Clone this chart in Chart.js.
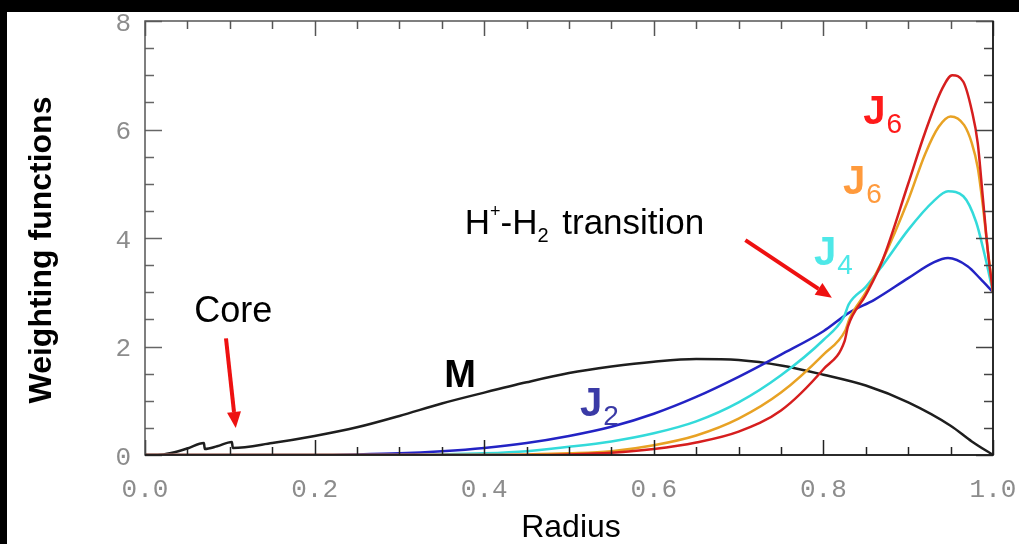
<!DOCTYPE html>
<html><head><meta charset="utf-8">
<script src="https://cdn.jsdelivr.net/npm/chart.js@4.4.1/dist/chart.umd.min.js"></script>
<style>html,body{margin:0;padding:0;background:#000;overflow:hidden}canvas{display:block}</style>
</head><body>
<canvas id="c" width="1019" height="544"></canvas>
<script>
// ---- data ----
const radiusTicks = [0, 0.2, 0.4, 0.6, 0.8, 1.0];
const weightTicks = [0, 2, 4, 6, 8];

const mRadius = [0, 0.015, 0.032, 0.05, 0.0695, 0.0705, 0.085, 0.1025, 0.1035, 0.15, 0.2, 0.25, 0.3, 0.35, 0.4, 0.45, 0.5, 0.55, 0.6, 0.65, 0.7, 0.75, 0.8, 0.85, 0.9, 0.95, 0.975, 1.0];
const mValues = [0, 0, 0.04, 0.12, 0.22, 0.11, 0.16, 0.24, 0.13, 0.22, 0.35, 0.51, 0.72, 0.95, 1.15, 1.34, 1.51, 1.63, 1.72, 1.77, 1.75, 1.65, 1.48, 1.28, 0.97, 0.54, 0.25, 0];

const j2Radius = [0, 0.2, 0.25, 0.3, 0.35, 0.4, 0.45, 0.5, 0.55, 0.6, 0.65, 0.7, 0.75, 0.8, 0.83, 0.86, 0.9, 0.93, 0.947, 0.97, 0.985, 1.0];
const j2Values = [0, 0, 0.01, 0.03, 0.07, 0.13, 0.22, 0.35, 0.52, 0.76, 1.07, 1.44, 1.85, 2.28, 2.62, 2.86, 3.26, 3.55, 3.63, 3.48, 3.25, 3.0];

const j4Radius = [0, 0.3, 0.35, 0.4, 0.45, 0.5, 0.55, 0.6, 0.65, 0.7, 0.75, 0.8, 0.824, 0.83, 0.85, 0.87, 0.9, 0.93, 0.947, 0.965, 0.98, 0.99, 1.0];
const j4Values = [0, 0, 0.01, 0.03, 0.07, 0.15, 0.25, 0.40, 0.62, 0.97, 1.47, 2.12, 2.54, 2.78, 3.1, 3.5, 4.15, 4.68, 4.86, 4.77, 4.30, 3.70, 3.0];

const j6aRadius = [0, 0.4, 0.45, 0.5, 0.55, 0.6, 0.65, 0.7, 0.75, 0.8, 0.826, 0.831, 0.85, 0.87, 0.9, 0.92, 0.936, 0.95, 0.966, 0.975, 0.982, 0.988, 0.994, 1.0];
const j6aValues = [0, 0, 0.01, 0.03, 0.07, 0.18, 0.36, 0.67, 1.15, 1.85, 2.30, 2.52, 3.0, 3.6, 4.70, 5.55, 6.05, 6.24, 6.08, 5.75, 5.30, 4.60, 3.75, 3.0];

const j6bRadius = [0, 0.45, 0.5, 0.55, 0.6, 0.65, 0.7, 0.75, 0.8, 0.825, 0.829, 0.85, 0.87, 0.9, 0.92, 0.94, 0.952, 0.965, 0.975, 0.982, 0.988, 0.994, 1.0];
const j6bValues = [0, 0, 0.01, 0.04, 0.11, 0.23, 0.43, 0.82, 1.58, 2.10, 2.37, 2.95, 3.6, 5.0, 5.95, 6.75, 7.0, 6.88, 6.35, 5.75, 4.75, 3.75, 3.0];

function pts(xs, ys) { return xs.map((x, i) => ({ x: x, y: ys[i] })); }

const tickFont = { family: 'Liberation Mono', size: 26 };
const gray = '#8c8c8c';

function richText(ctx, x, y, parts) {
  let cx = x;
  for (const p of parts) {
    ctx.font = (p.weight || 'normal') + ' ' + p.size + 'px "Liberation Sans", Arial, sans-serif';
    ctx.fillText(p.text, cx, y + (p.dy || 0));
    cx += ctx.measureText(p.text).width + (p.gap || 0);
  }
}
function arrow(ctx, x1, y1, x2, y2, color) {
  const ang = Math.atan2(y2 - y1, x2 - x1);
  const head = 16, hw = 7;
  const bx = x2 - head * Math.cos(ang), by = y2 - head * Math.sin(ang);
  ctx.save();
  ctx.strokeStyle = color; ctx.fillStyle = color; ctx.lineWidth = 4;
  ctx.beginPath(); ctx.moveTo(x1, y1); ctx.lineTo(bx, by); ctx.stroke();
  ctx.beginPath();
  ctx.moveTo(x2, y2);
  ctx.lineTo(bx + hw * Math.sin(ang), by - hw * Math.cos(ang));
  ctx.lineTo(bx - hw * Math.sin(ang), by + hw * Math.cos(ang));
  ctx.closePath(); ctx.fill();
  ctx.restore();
}

const framePlugin = {
  id: 'framePlugin',
  beforeDraw(chart) {
    const ctx = chart.ctx;
    ctx.save();
    ctx.fillStyle = '#000'; ctx.fillRect(0, 0, chart.width, chart.height);
    ctx.fillStyle = '#fff'; ctx.fillRect(7, 12, chart.width - 7, chart.height - 12);
    ctx.restore();
  },
  afterDatasetsDraw(chart) {
    const ctx = chart.ctx, a = chart.chartArea;
    const xs = chart.scales.x, ys = chart.scales.y;
    ctx.save();
    // inward ticks
    ctx.lineWidth = 1.5;
    for (let i = 0; i <= 20; i++) {
      const px = Math.round(xs.getPixelForValue(i / 20)) + 0.5;
      const len = i % 4 === 0 ? 15 : 8;
      ctx.strokeStyle = '#222';
      ctx.beginPath(); ctx.moveTo(px, a.bottom); ctx.lineTo(px, a.bottom - len); ctx.stroke();
      ctx.strokeStyle = '#555';
      ctx.beginPath(); ctx.moveTo(px, a.top); ctx.lineTo(px, a.top + len); ctx.stroke();
    }
    for (let i = 0; i <= 16; i++) {
      const py = Math.round(ys.getPixelForValue(i / 2)) + 0.5;
      const len = i % 4 === 0 ? 17 : 9;
      ctx.strokeStyle = '#666';
      ctx.beginPath(); ctx.moveTo(a.left, py); ctx.lineTo(a.left + len, py); ctx.stroke();
      ctx.strokeStyle = '#444';
      ctx.beginPath(); ctx.moveTo(a.right, py); ctx.lineTo(a.right - len, py); ctx.stroke();
    }
    // frame
    ctx.lineWidth = 1.5;
    ctx.strokeStyle = '#555';
    ctx.strokeRect(a.left, a.top, a.right - a.left, a.bottom - a.top);
    ctx.strokeStyle = '#111';
    ctx.beginPath(); ctx.moveTo(a.left, a.bottom); ctx.lineTo(a.right, a.bottom); ctx.lineTo(a.right, a.top); ctx.stroke();

    // axis titles
    ctx.fillStyle = '#000';
    ctx.textAlign = 'center'; ctx.textBaseline = 'middle';
    ctx.font = 'normal 32px "Liberation Sans", Arial, sans-serif';
    ctx.fillText('Radius', (a.left + a.right) / 2 + 2, 528);
    ctx.save();
    ctx.translate(42, 250); ctx.rotate(-Math.PI / 2);
    ctx.font = 'bold 32px "Liberation Sans", Arial, sans-serif';
    ctx.fillText('Weighting functions', 0, 0);
    ctx.restore();

    // annotations (placed in data coordinates)
    const X = v => xs.getPixelForValue(v), Y = v => ys.getPixelForValue(v);
    ctx.textAlign = 'left'; ctx.textBaseline = 'alphabetic';
    ctx.fillStyle = '#000';
    richText(ctx, X(0.058), Y(2.46), [{ text: 'Core', size: 36 }]);
    arrow(ctx, X(0.0955), Y(2.15), X(0.107), Y(0.50), '#ee1111');
    richText(ctx, X(0.353), Y(1.25), [{ text: 'M', size: 38, weight: 'bold' }]);
    richText(ctx, X(0.377), Y(4.07), [
      { text: 'H', size: 35 }, { text: '+', size: 18, dy: -17 }, { text: '-H', size: 35 },
      { text: '2', size: 20, dy: 8, gap: 4 }, { text: ' transition', size: 35 }]);
    arrow(ctx, X(0.708), Y(3.96), X(0.810), Y(2.90), '#ee1111');
    ctx.fillStyle = '#3a3aa6';
    richText(ctx, X(0.513), Y(0.72), [{ text: 'J', size: 40, weight: 'bold', gap: 1 }, { text: '2', size: 28, dy: 9 }]);
    ctx.fillStyle = '#4ee8e8';
    richText(ctx, X(0.789), Y(3.50), [{ text: 'J', size: 40, weight: 'bold', gap: 1 }, { text: '4', size: 28, dy: 9 }]);
    ctx.fillStyle = '#ff9a3c';
    richText(ctx, X(0.823), Y(4.81), [{ text: 'J', size: 40, weight: 'bold', gap: 1 }, { text: '6', size: 28, dy: 9 }]);
    ctx.fillStyle = '#ff1a1a';
    richText(ctx, X(0.847), Y(6.11), [{ text: 'J', size: 40, weight: 'bold', gap: 1 }, { text: '6', size: 28, dy: 9 }]);
    ctx.restore();
  }
};

const lineDs = (label, data, color, order) => ({
  label, data, borderColor: color, borderWidth: 2.5, pointRadius: 0,
  fill: false, cubicInterpolationMode: 'monotone', order
});

new Chart(document.getElementById('c'), {
  type: 'line',
  data: {
    datasets: [
      lineDs('J6 (red)', pts(j6bRadius, j6bValues), '#d61e1e', 0),
      lineDs('J6 (orange)', pts(j6aRadius, j6aValues), '#e8a224', 1),
      lineDs('J4', pts(j4Radius, j4Values), '#33dada', 2),
      lineDs('J2', pts(j2Radius, j2Values), '#2323c4', 3),
      lineDs('M', pts(mRadius, mValues), '#1e1e1e', 4)
    ]
  },
  options: {
    responsive: false, animation: false, devicePixelRatio: 1,
    layout: { padding: { left: 0, right: 26, top: 21, bottom: 0 } },
    plugins: { legend: { display: false }, tooltip: { enabled: false } },
    scales: {
      x: {
        type: 'linear', min: 0, max: 1,
        afterFit(s) { s.height = 89; s.paddingLeft = 0; s.paddingRight = 0; },
        afterBuildTicks(s) { s.ticks = radiusTicks.map(v => ({ value: v })); },
        grid: { display: false, drawTicks: false }, border: { display: false },
        ticks: { color: gray, font: tickFont, padding: 20, maxRotation: 0, autoSkip: false,
          callback: v => Number(v).toFixed(1) }
      },
      y: {
        type: 'linear', min: 0, max: 8,
        afterFit(s) { s.width = 145; s.paddingTop = 0; s.paddingBottom = 0; },
        afterBuildTicks(s) { s.ticks = weightTicks.map(v => ({ value: v })); },
        grid: { display: false, drawTicks: false }, border: { display: false },
        ticks: { color: gray, font: tickFont, padding: 14, labelOffset: 3, callback: v => String(v) }
      }
    }
  },
  plugins: [framePlugin]
});
</script>
</body></html>
